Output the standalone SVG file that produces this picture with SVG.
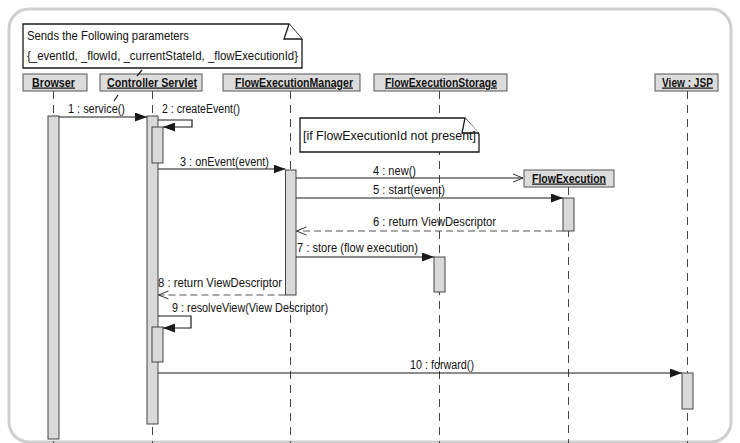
<svg xmlns="http://www.w3.org/2000/svg" width="740" height="443" viewBox="0 0 740 443">
  <style>
    text { font-family: "Liberation Sans", Arial, sans-serif; fill: #111; }
    .lbl { font-size: 12.5px; }
    .hdr { font-size: 12px; font-weight: bold; text-decoration: underline; }
    .note-t { font-size: 12.5px; }
    .head { fill: #dcdcdc; stroke: #555; stroke-width: 1; }
    .act { fill: #d9d9d9; stroke: #444; stroke-width: 1; }
    .life { stroke: #444; stroke-width: 1; stroke-dasharray: 8 6; fill: none; }
    .msg { stroke: #1a1a1a; stroke-width: 1.2; fill: none; }
    .ret { stroke: #555; stroke-width: 1.2; stroke-dasharray: 7 4; fill: none; }
    .note { fill: #fff; stroke: #1a1a1a; stroke-width: 1.3; }
    .tick { stroke: #1a1a1a; stroke-width: 1.2; }
  </style>
  <defs>
    <marker id="solid" markerUnits="userSpaceOnUse" markerWidth="12" markerHeight="9" refX="12" refY="4.5" orient="auto">
      <path d="M0,0 L12,4.5 L0,9 z" fill="#1a1a1a"/>
    </marker>
    <marker id="open" markerUnits="userSpaceOnUse" markerWidth="12" markerHeight="10" refX="11" refY="5" orient="auto">
      <path d="M1,1 L11,5 L1,9" fill="none" stroke="#333" stroke-width="1"/>
    </marker>
  </defs>

  <!-- outer frame -->
  <rect x="9" y="9" width="722" height="433" rx="20" ry="20" fill="#fff" stroke="#cfcfcf" stroke-width="3"/>

  <!-- lifelines with headers and activation bars -->
  <g id="browser">
    <line class="life" x1="53.5" y1="91" x2="53.5" y2="443"/>
    <rect class="head" x="23" y="74" width="64" height="17"/>
    <text class="hdr" x="32" y="86.5" textLength="43" lengthAdjust="spacingAndGlyphs">Browser</text>
    <rect class="act" x="48" y="116" width="11" height="323"/>
  </g>

  <g id="controller-servlet">
    <line class="life" x1="152.5" y1="91" x2="152.5" y2="443"/>
    <rect class="head" x="100" y="74" width="102" height="17"/>
    <text class="hdr" x="107" y="86.5" textLength="90" lengthAdjust="spacingAndGlyphs">Controller Servlet</text>
    <rect class="act" x="147" y="116" width="11" height="308"/>
    <rect class="act" x="152" y="127" width="11" height="36"/>
    <rect class="act" x="152" y="327" width="11" height="35"/>
  </g>

  <g id="flow-execution-manager">
    <line class="life" x1="290.5" y1="91" x2="290.5" y2="443"/>
    <rect class="head" x="223" y="74" width="137" height="17"/>
    <text class="hdr" x="235" y="86.5" textLength="118" lengthAdjust="spacingAndGlyphs">FlowExecutionManager</text>
    <rect class="act" x="285.5" y="170" width="10.5" height="125"/>
  </g>

  <g id="flow-execution-storage">
    <line class="life" x1="439.5" y1="91" x2="439.5" y2="443"/>
    <rect class="head" x="374" y="74" width="133" height="17"/>
    <text class="hdr" x="385" y="86.5" textLength="112" lengthAdjust="spacingAndGlyphs">FlowExecutionStorage</text>
    <rect class="act" x="434" y="257" width="11" height="35"/>
  </g>

  <g id="flow-execution">
    <line class="life" x1="568.5" y1="187" x2="568.5" y2="443"/>
    <rect class="head" x="524" y="170" width="90" height="17"/>
    <text class="hdr" x="532" y="182.5" textLength="74" lengthAdjust="spacingAndGlyphs">FlowExecution</text>
    <rect class="act" x="563" y="198" width="11" height="33"/>
  </g>

  <g id="view-jsp">
    <line class="life" x1="687.5" y1="91" x2="687.5" y2="443"/>
    <rect class="head" x="655" y="74" width="63" height="17"/>
    <text class="hdr" x="662" y="86.5" textLength="51" lengthAdjust="spacingAndGlyphs">View : JSP</text>
    <rect class="act" x="682" y="373" width="11" height="36"/>
  </g>

  <!-- notes -->
  <g id="note-parameters">
    <path class="note" d="M23,24 L289,24 L302,39 L302,68 L23,68 Z"/>
    <path class="note" d="M289,24 L284,39 L302,39" fill="none"/>
    <text class="note-t" x="27" y="40" textLength="162" lengthAdjust="spacingAndGlyphs">Sends the Following parameters</text>
    <text class="note-t" x="27" y="60" textLength="271" lengthAdjust="spacingAndGlyphs">{_eventId, _flowId, _currentStateId, _flowExecutionId}</text>
  </g>

  <g id="note-condition">
    <path class="note" d="M300,118 L465,118 L479,134 L479,152 L300,152 Z"/>
    <path class="note" d="M465,118 L462,133 L479,133" fill="none"/>
    <text class="lbl" x="303" y="139.5" textLength="173" lengthAdjust="spacingAndGlyphs">[if FlowExecutionId not present]</text>
  </g>

  <!-- messages -->
  <g id="connectors">
    <line class="tick" x1="137" y1="76" x2="142" y2="70"/>
    <line class="tick" x1="114" y1="101" x2="118" y2="95"/>

    <line class="msg" x1="59" y1="117" x2="147" y2="117" marker-end="url(#solid)"/>
    <text class="lbl" x="68" y="112.5" textLength="57" lengthAdjust="spacingAndGlyphs">1 : service()</text>

    <polyline class="msg" points="158,120 192,120 192,127 163,127" marker-end="url(#solid)"/>
    <text class="lbl" x="162" y="112.5" textLength="78" lengthAdjust="spacingAndGlyphs">2 : createEvent()</text>

    <line class="msg" x1="158" y1="169" x2="285.5" y2="169" marker-end="url(#solid)"/>
    <text class="lbl" x="180" y="165.5" textLength="89" lengthAdjust="spacingAndGlyphs">3 : onEvent(event)</text>

    <line class="msg" x1="296" y1="178" x2="523" y2="178" marker-end="url(#open)"/>
    <text class="lbl" x="373" y="174.5" textLength="43" lengthAdjust="spacingAndGlyphs">4 : new()</text>

    <line class="msg" x1="296" y1="198" x2="563" y2="198" marker-end="url(#solid)"/>
    <text class="lbl" x="373" y="193.5" textLength="72" lengthAdjust="spacingAndGlyphs">5 : start(event)</text>

    <line class="ret" x1="563" y1="231" x2="296.5" y2="231" marker-end="url(#open)"/>
    <text class="lbl" x="373" y="225.5" textLength="123" lengthAdjust="spacingAndGlyphs">6 : return ViewDescriptor</text>

    <line class="msg" x1="296" y1="257" x2="434" y2="257" marker-end="url(#solid)"/>
    <text class="lbl" x="297" y="251.5" textLength="121" lengthAdjust="spacingAndGlyphs">7 : store (flow execution)</text>

    <line class="ret" x1="285.5" y1="295" x2="158.5" y2="295" marker-end="url(#open)"/>
    <text class="lbl" x="158" y="286.5" textLength="124" lengthAdjust="spacingAndGlyphs">8 : return ViewDescriptor</text>

    <polyline class="msg" points="158,316 191,316 191,328 163,328" marker-end="url(#solid)"/>
    <text class="lbl" x="172" y="311.5" textLength="156" lengthAdjust="spacingAndGlyphs">9 : resolveView(View Descriptor)</text>

    <line class="msg" x1="158" y1="373" x2="682" y2="373" marker-end="url(#solid)"/>
    <text class="lbl" x="410" y="368.5" textLength="64" lengthAdjust="spacingAndGlyphs">10 : forward()</text>
  </g>
</svg>
